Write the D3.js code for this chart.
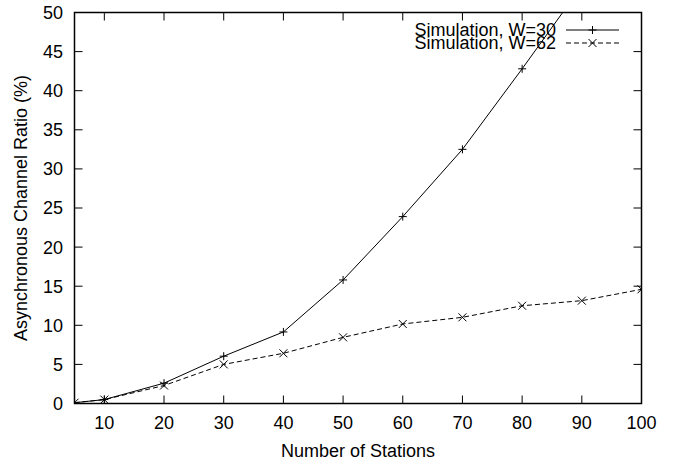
<!DOCTYPE html>
<html lang="en">
<head>
    <meta charset="UTF-8">
    <script src="https://d3js.org/d3.v7.min.js"></script>
    <title>Asynchronous Channel Ratio</title>
    <style>
        body { margin: 0; background: #fff; }
        text { font-family: "Liberation Sans", Arial, sans-serif; font-size: 18px; fill: #000; }
    </style>
</head>
<body>
    <script>

        // data
        var stations = [5, 10, 20, 30, 40, 50, 60, 70, 80, 90, 100];
        var w30 = [0.1, 0.5, 2.6, 6.05, 9.15, 15.8, 23.9, 32.5, 42.8, 53.4];
        var w62 = [0.1, 0.5, 2.3, 5.0, 6.42, 8.46, 10.17, 11.02, 12.5, 13.15, 14.6];
        var xTicks = [10, 20, 30, 40, 50, 60, 70, 80, 90, 100];
        var yTicks = [0, 5, 10, 15, 20, 25, 30, 35, 40, 45, 50];
        var seriesNames = ["Simulation, W=30", "Simulation, W=62"];

        var W = 678, H = 464;
        var pl = 74.5, pr = 641.5, pt = 12.5, pb = 403.5;
        var tickLen = 8;

        var svg = d3.select("body").append("svg").attr("width", W).attr("height", H);

        var x = d3.scaleLinear().domain([5, 100]).range([pl, pr]);
        var y = d3.scaleLinear().domain([0, 50]).range([pb, pt]);

        // ticks (inward, mirrored on all sides)
        var ax = svg.append("g").attr("stroke", "#000").attr("stroke-width", 1);
        xTicks.forEach(function(t){
            ax.append("line").attr("x1", x(t)).attr("x2", x(t)).attr("y1", pb).attr("y2", pb - tickLen);
            ax.append("line").attr("x1", x(t)).attr("x2", x(t)).attr("y1", pt).attr("y2", pt + tickLen);
        });
        yTicks.forEach(function(t){
            ax.append("line").attr("x1", pl).attr("x2", pl + tickLen).attr("y1", y(t)).attr("y2", y(t));
            ax.append("line").attr("x1", pr).attr("x2", pr - tickLen).attr("y1", y(t)).attr("y2", y(t));
        });

        // tick labels
        svg.selectAll(".xl").data(xTicks).enter().append("text")
            .attr("x", function(d){ return x(d); }).attr("y", 429)
            .attr("text-anchor", "middle").text(function(d){ return d; });
        svg.selectAll(".yl").data(yTicks).enter().append("text")
            .attr("x", 63).attr("y", function(d){ return y(d); }).attr("dy", "0.36em")
            .attr("text-anchor", "end").text(function(d){ return d; });

        // axis titles
        svg.append("text").attr("x", (pl + pr) / 2).attr("y", 456.5)
            .attr("text-anchor", "middle").text("Number of Stations");
        svg.append("text").attr("transform", "translate(27," + ((pt + pb) / 2) + ") rotate(-90)")
            .attr("text-anchor", "middle").text("Asynchronous Channel Ratio (%)");

        // clip to plot area
        svg.append("clipPath").attr("id", "plot")
            .append("rect").attr("x", pl).attr("y", pt).attr("width", pr - pl).attr("height", pb - pt);

        var line = d3.line().x(function(d){ return x(d[0]); }).y(function(d){ return y(d[1]); });
        var d30 = w30.map(function(v, i){ return [stations[i], v]; });
        var d62 = w62.map(function(v, i){ return [stations[i], v]; });

        var plot = svg.append("g").attr("clip-path", "url(#plot)");
        plot.append("path").datum(d30).attr("d", line)
            .attr("fill", "none").attr("stroke", "#000").attr("stroke-width", 1);
        plot.append("path").datum(d62).attr("d", line)
            .attr("fill", "none").attr("stroke", "#000").attr("stroke-width", 1).attr("stroke-dasharray", "5,3");

        var ms = 4;
        function plus(g, cx, cy){
            g.append("path").attr("d", "M" + (cx - ms) + "," + cy + "H" + (cx + ms) + "M" + cx + "," + (cy - ms) + "V" + (cy + ms))
                .attr("stroke", "#000").attr("stroke-width", 1).attr("fill", "none");
        }
        function cross(g, cx, cy){
            g.append("path").attr("d", "M" + (cx - ms) + "," + (cy - ms) + "L" + (cx + ms) + "," + (cy + ms)
                + "M" + (cx - ms) + "," + (cy + ms) + "L" + (cx + ms) + "," + (cy - ms))
                .attr("stroke", "#000").attr("stroke-width", 1).attr("fill", "none");
        }
        d30.forEach(function(d){ plus(plot, x(d[0]), y(d[1])); });
        d62.forEach(function(d){ cross(plot, x(d[0]), y(d[1])); });

        // frame
        svg.append("rect").attr("x", pl).attr("y", pt).attr("width", pr - pl).attr("height", pb - pt)
            .attr("fill", "none").attr("stroke", "#000").attr("stroke-width", 1.5);

        // legend
        var legY = [30, 43];
        var lg = svg.append("g");
        seriesNames.forEach(function(name, i){
            lg.append("text").attr("x", 556).attr("y", legY[i]).attr("dy", "0.36em")
                .attr("text-anchor", "end").text(name);
            var ln = lg.append("line").attr("x1", 566).attr("x2", 619).attr("y1", legY[i]).attr("y2", legY[i])
                .attr("stroke", "#000").attr("stroke-width", 1);
            if (i == 1) ln.attr("stroke-dasharray", "5,3");
            if (i == 0) plus(lg, 592.5, legY[i]); else cross(lg, 592.5, legY[i]);
        });

    </script>
</body>
</html>
